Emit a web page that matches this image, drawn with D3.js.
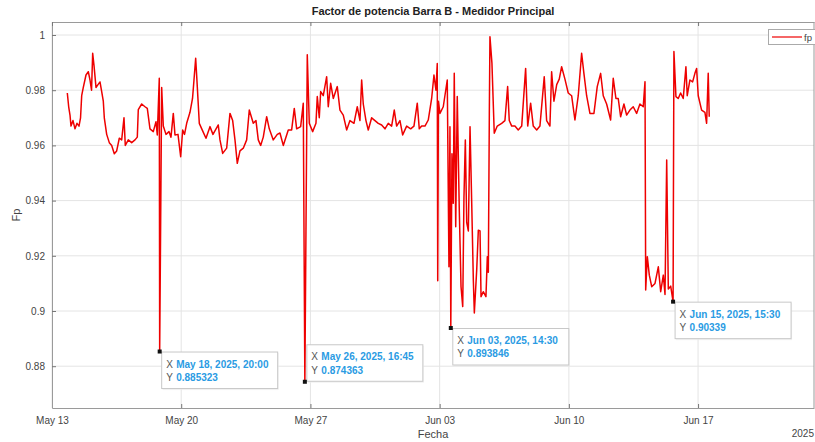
<!DOCTYPE html>
<html><head><meta charset="utf-8">
<script src="https://cdn.jsdelivr.net/npm/d3@7"></script>
<style>body{margin:0;background:#fff}svg{display:block}text{font-family:"Liberation Sans",Arial,sans-serif}</style>
</head><body><svg id="c" width="815" height="442"></svg>
<script>
// ---- data (hours since 2025-05-13 00:00, power factor) ----
const startDate = "2025-05-13T00:00:00";
const hours = [19.9,21.7,23.4,24.7,27.3,29.9,32.5,35.1,37.1,38.6,40.7,44.2,47.2,49.4,51.4,52.9,54.6,57.2,59.8,62.4,64.6,66.7,68.0,71.1,74.5,77.6,81.0,84.1,87.5,90.6,93.6,95.3,99.2,103.6,107.9,110.9,112.2,116.6,120.9,123.9,127.4,131.7,135.2,136.9,139.5,140,142.6,144.7,148.2,152.1,154.7,157.7,159.9,163.8,167.3,169.9,172.3,175.1,179.4,182.7,184.6,186.8,188.9,191.5,196.3,200.2,205.4,209.3,216.2,218.4,221.9,227.1,231.4,234.9,237.9,240.9,244.4,248.7,253.1,256.5,261.7,265.2,268.2,271.3,274.7,279.1,282.5,287.7,292.9,296.4,300.7,307.2,311.6,315.0,318.1,323.3,326.7,328.75,331.9,334.5,338.9,343.2,344.9,347.5,349.3,352.7,357.1,359.2,362.3,365.7,370.9,374.4,378.7,383.1,387.4,392.6,396.9,400.4,402.6,404.7,408.2,411.2,415.6,419.9,424.2,428.6,432.9,437.2,441.6,445.0,448.1,452.4,455.9,461.1,466.3,470.6,474.9,477.5,480.6,484.9,489.2,493.6,496.6,499.2,500.9,501.5,502.4,504.4,508.7,513.9,516.1,517.4,518.5,520.0,521.7,523.0,524.9,526.9,529.5,531.8,534.0,535.6,537.4,539.2,541.3,543.5,545.7,547.8,549.1,552.2,554.3,556.5,557.8,560.7,564.2,566.0,567.3,568.6,569.4,572.0,575.0,578.9,584.6,588.9,592.4,594.5,597.7,601.9,606.2,610.7,615.8,618.5,622.3,625.7,630.2,634.4,640.0,643.1,647.4,649.6,652.6,656.2,659.5,662.6,666.9,671.2,675.6,679.9,684.2,688.6,691.6,695.1,699.4,704.6,708.9,713.3,716.7,721.1,726.3,729.7,733.2,736.2,739.3,743.6,747.1,751.4,755.7,760.1,764.4,768.7,771.0,771.9,774.0,776.6,779.7,784.0,788.3,791.4,794.8,797.0,799.2,801.3,804.4,807.5,808.6,811.2,814.2,817.3,820.7,824.2,825.9,829.4,832.9,835.9,838.1,840.2,844.6,848.9,851.1,853.2,854.5];
const fp = [0.979,0.974,0.971,0.967,0.969,0.966,0.968,0.967,0.970,0.978,0.981,0.9855,0.9867,0.9837,0.980,0.9934,0.989,0.981,0.982,0.983,0.9795,0.976,0.970,0.964,0.961,0.960,0.957,0.958,0.9626,0.962,0.970,0.960,0.962,0.961,0.962,0.963,0.973,0.975,0.974,0.9734,0.966,0.965,0.9686,0.9638,0.9843,0.885323,0.981,0.967,0.964,0.965,0.963,0.9716,0.9638,0.964,0.9559,0.9656,0.964,0.968,0.972,0.977,0.9837,0.9916,0.9813,0.968,0.965,0.9626,0.9668,0.964,0.9674,0.962,0.9571,0.959,0.9716,0.969,0.962,0.9535,0.958,0.959,0.962,0.9728,0.968,0.969,0.962,0.960,0.963,0.9704,0.966,0.962,0.964,0.9645,0.960,0.9656,0.9656,0.9734,0.966,0.9668,0.9753,0.874363,0.9928,0.968,0.965,0.968,0.9777,0.970,0.9795,0.978,0.9849,0.974,0.9825,0.977,0.9813,0.9728,0.971,0.9656,0.969,0.968,0.974,0.969,0.9837,0.975,0.969,0.9656,0.970,0.969,0.968,0.9674,0.966,0.968,0.967,0.9728,0.967,0.969,0.9638,0.967,0.966,0.967,0.9753,0.966,0.967,0.967,0.9692,0.977,0.9855,0.980,0.9897,0.911,0.976,0.9716,0.974,0.9837,0.916,0.9668,0.893846,0.957,0.939,0.9861,0.9305,0.9777,0.937,0.9088,0.9016,0.941,0.962,0.932,0.929,0.9668,0.939,0.9112,0.8993,0.915,0.9293,0.929,0.9052,0.907,0.9052,0.9197,0.914,0.9716,0.9994,0.9897,0.9644,0.967,0.968,0.969,0.9813,0.969,0.967,0.967,0.9656,0.967,0.9879,0.967,0.9753,0.967,0.9656,0.967,0.9849,0.969,0.967,0.9867,0.976,0.982,0.984,0.9885,0.984,0.979,0.978,0.9692,0.978,0.9934,0.986,0.978,0.9716,0.9716,0.9813,0.9861,0.978,0.975,0.9692,0.9843,0.977,0.977,0.9704,0.975,0.971,0.9728,0.974,0.9716,0.975,0.974,0.9831,0.9076,0.9197,0.913,0.9088,0.910,0.916,0.907,0.913,0.906,0.9547,0.908,0.909,0.90339,0.994,0.9777,0.977,0.979,0.977,0.9885,0.978,0.9837,0.983,0.9861,0.9879,0.978,0.9728,0.972,0.968,0.9861,0.9704];

const tipTimes = ["2025-05-18T20:00:00","2025-05-26T16:45:00","2025-06-03T14:30:00","2025-06-15T15:30:00"];
const tipValues = [0.885323,0.874363,0.893846,0.90339];
const tipXLabels = ["May 18, 2025, 20:00","May 26, 2025, 16:45","Jun 03, 2025, 14:30","Jun 15, 2025, 15:30"];

const xTickDates = ["2025-05-13","2025-05-20","2025-05-27","2025-06-03","2025-06-10","2025-06-17"];
const xTickLabels = ["May 13","May 20","May 27","Jun 03","Jun 10","Jun 17"];
const yTicks = [0.88,0.9,0.92,0.94,0.96,0.98,1];
const yTickLabels = ["0.88","0.9","0.92","0.94","0.96","0.98","1"];

const titleText = "Factor de potencia Barra B - Medidor Principal";
const xLabelText = "Fecha", yLabelText = "Fp", yearText = "2025", legendText = "fp";

// ---- layout ----
const L = 52, R = 814, T = 22, B = 408;
const parse = s => { const [d,t] = s.split("T"); const [Y,M,D] = d.split("-").map(Number);
  const [h,m] = (t||"00:00").split(":").map(Number); return new Date(Y,M-1,D,h,m); };
const t0 = parse(startDate);
const toDate = h => new Date(t0.getTime() + h*3600e3);

const x = d3.scaleTime().domain([t0, new Date(t0.getTime() + 41.28*864e5)]).range([L, R]);
const y = d3.scaleLinear().domain([0.86486, 1.00471]).range([B, T]);

const svg = d3.select("#c");
const g = svg.append("g");

// grid
const xt = xTickDates.map(parse);
g.append("g").selectAll("line").data(xt).join("line")
  .attr("x1", d=>x(d)).attr("x2", d=>x(d)).attr("y1", T).attr("y2", B)
  .attr("stroke", "#e4e4e4").attr("stroke-width", 1);
g.append("g").selectAll("line").data(yTicks).join("line")
  .attr("x1", L).attr("x2", R).attr("y1", d=>y(d)).attr("y2", d=>y(d))
  .attr("stroke", "#e4e4e4").attr("stroke-width", 1);

// axes
const xAxis = d3.axisBottom(x).tickValues(xt).tickFormat((d,i)=>xTickLabels[i]).tickSizeInner(-4).tickSizeOuter(0).tickPadding(9);
const yAxis = d3.axisLeft(y).tickValues(yTicks).tickFormat((d,i)=>yTickLabels[i]).tickSizeInner(-4).tickSizeOuter(0).tickPadding(7);
const xa = g.append("g").attr("transform", `translate(0,${B})`).call(xAxis);
const ya = g.append("g").attr("transform", `translate(${L},0)`).call(yAxis);
const xTop = d3.axisTop(x).tickValues(xt).tickFormat("").tickSizeInner(-4).tickSizeOuter(0);
const xta = g.append("g").attr("transform", `translate(0,${T})`).call(xTop);
[xa, ya, xta].forEach(a => {
  a.select(".domain").attr("stroke", "#9a9a9a");
  a.selectAll(".tick line").attr("stroke", "#777");
  a.selectAll("text").attr("fill", "#444").attr("font-size", 10);
});
g.append("line").attr("x1", R).attr("x2", R).attr("y1", T).attr("y2", B).attr("stroke", "#9a9a9a");

// series
const pts = hours.map((h,i)=>({t: toDate(h), v: fp[i]}));
const line = d3.line().x(d=>x(d.t)).y(d=>y(d.v));
g.append("path").datum(pts).attr("d", line).attr("fill", "none")
  .attr("stroke", "#ee0000").attr("stroke-width", 1.5).attr("stroke-linejoin", "round");

// titles
svg.append("text").attr("x", (L+R)/2).attr("y", 15).attr("text-anchor", "middle")
  .attr("font-size", 11).attr("font-weight", "bold").attr("fill", "#222").text(titleText);
svg.append("text").attr("x", (L+R)/2).attr("y", 438).attr("text-anchor", "middle")
  .attr("font-size", 11).attr("fill", "#444").text(xLabelText);
svg.append("text").attr("transform", `translate(20,${(T+B)/2}) rotate(-90)`).attr("text-anchor", "middle")
  .attr("font-size", 11).attr("fill", "#444").text(yLabelText);
svg.append("text").attr("x", 814).attr("y", 437).attr("text-anchor", "end")
  .attr("font-size", 10).attr("fill", "#444").text(yearText);

// legend
svg.append("rect").attr("x", 768.5).attr("y", 29.5).attr("width", 60).attr("height", 15)
  .attr("fill", "#fff").attr("stroke", "#aaa");
svg.append("line").attr("x1", 772).attr("x2", 802).attr("y1", 37).attr("y2", 37)
  .attr("stroke", "#ee0000").attr("stroke-width", 1.2);
svg.append("text").attr("x", 804).attr("y", 40.5).attr("font-size", 9.5).attr("fill", "#444").text(legendText);

// data tips
const placement = ["down","up","down","down"];
const tips = tipTimes.map((s,i)=>({t: parse(s), v: tipValues[i], lab: tipXLabels[i], p: placement[i]}));
const tg = svg.append("g").selectAll("g").data(tips).join("g")
  .attr("transform", d => {
    const px = x(d.t), py = y(d.v);
    const bx = px + 1.5, by = d.p === "down" ? py + 0 : py - 37.5;
    return `translate(${bx},${by})`;
  });
tg.append("rect").attr("x", 1.5).attr("y", 1.5).attr("width", 116).attr("height", 37).attr("fill", "#ececec").attr("opacity", 0.7);
tg.append("rect").attr("x", 0.5).attr("y", 0.5).attr("width", 116).attr("height", 36.5)
  .attr("fill", "#fff").attr("stroke", "#c8c8c8");
tg.append("text").attr("x", 5).attr("y", 16).attr("font-size", 10).attr("fill", "#555").text("X");
tg.append("text").attr("x", 15).attr("y", 16).attr("font-size", 10).attr("font-weight", "bold").attr("fill", "#2a9be3").text(d=>d.lab);
tg.append("text").attr("x", 5).attr("y", 29.5).attr("font-size", 10).attr("fill", "#555").text("Y");
tg.append("text").attr("x", 15).attr("y", 29.5).attr("font-size", 10).attr("font-weight", "bold").attr("fill", "#2a9be3").text(d=>String(d.v));
svg.append("g").selectAll("rect").data(tips).join("rect")
  .attr("x", d=>x(d.t)-2).attr("y", d=>y(d.v)-2).attr("width", 4).attr("height", 4).attr("fill", "#111");
</script></body></html>
